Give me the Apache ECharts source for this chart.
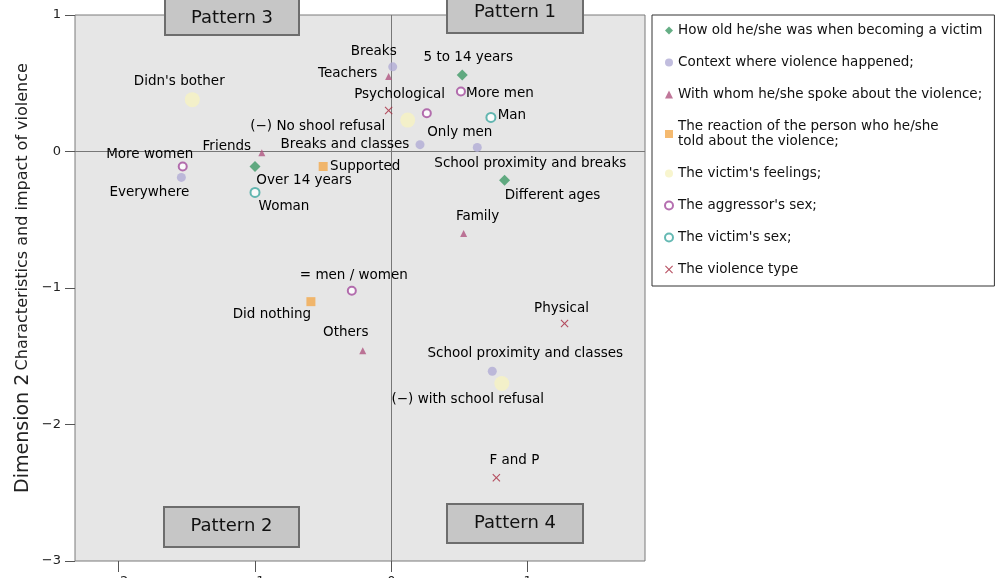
<!DOCTYPE html>
<html>
<head>
<meta charset="utf-8">
<script src="https://cdn.jsdelivr.net/npm/echarts@6/dist/echarts.min.js"></script>
<style>html,body{margin:0;padding:0;background:#fff}#c{width:995px;height:578px}</style>
</head>
<body>
<div id="c"></div>
<script>
// ---- data ----
const xTicks = [-2, -1, 0, 1];
const yTicks = [-3, -2, -1, 0, 1];

const ageNames = ['5 to 14 years', 'Over 14 years', 'Different ages'];
const ageX = [0.52, -1.00, 0.83];
const ageY = [0.56, -0.11, -0.21];

const contextNames = ['Breaks', 'Breaks and classes', 'School proximity and breaks', 'Everywhere', 'School proximity and classes'];
const contextX = [0.01, 0.21, 0.63, -1.54, 0.74];
const contextY = [0.62, 0.05, 0.03, -0.19, -1.61];

const whomNames = ['Teachers', 'Friends', 'Family', 'Others'];
const whomX = [-0.02, -0.95, 0.53, -0.21];
const whomY = [0.55, -0.01, -0.60, -1.46];

const reactionNames = ['Supported', 'Did nothing'];
const reactionX = [-0.50, -0.59];
const reactionY = [-0.11, -1.10];

const feelingNames = ["Didn's bother", '(−) No shool refusal', '(−) with school refusal'];
const feelingX = [-1.46, 0.12, 0.81];
const feelingY = [0.38, 0.23, -1.70];

const aggressorNames = ['More men', 'Only men', 'More women', '= men / women'];
const aggressorX = [0.51, 0.26, -1.53, -0.29];
const aggressorY = [0.44, 0.28, -0.11, -1.02];

const victimNames = ['Man', 'Woman'];
const victimX = [0.73, -1.00];
const victimY = [0.25, -0.30];

const typeNames = ['Psychological', 'Physical', 'F and P'];
const typeX = [-0.02, 1.27, 0.77];
const typeY = [0.30, -1.26, -2.39];

const seriesNames = [
  'How old he/she was when becoming a victim',
  'Context where violence happened;',
  'With whom he/she spoke about the violence;',
  'The reaction of the person who he/she\ntold about the violence;',
  "The victim's feelings;",
  "The aggressor's sex;",
  "The victim's sex;",
  'The violence type'
];
const patternNames = ['Pattern 3', 'Pattern 1', 'Pattern 2', 'Pattern 4'];

// label placement (pixel offsets of text centre from its marker)
const labelOffsets = {
  '5 to 14 years': [6, -18], 'Over 14 years': [49, 14], 'Different ages': [48, 15],
  'Breaks': [-19, -15], 'Breaks and classes': [-75, 0], 'School proximity and breaks': [53, 16],
  'Everywhere': [-32, 15], 'School proximity and classes': [33, -18],
  'Teachers': [-41, -3], 'Friends': [-35, -6], 'Family': [14, -17], 'Others': [-17, -18],
  'Supported': [42, 0], 'Did nothing': [-39, 13],
  "Didn's bother": [-13, -18], '(−) No shool refusal': [-90, 6], '(−) with school refusal': [-34, 16],
  'More men': [39, 2], 'Only men': [33, 19], 'More women': [-33, -12], '= men / women': [2, -15],
  'Man': [21, -2], 'Woman': [29, 14],
  'Psychological': [11, -16], 'Physical': [-3, -15], 'F and P': [18, -17]
};

const FONT = 'DejaVu Sans';
const TXT = '#000';

function mk(name, names, xs, ys, symbol, size, color, itemStyle) {
  return {
    type: 'scatter', name: name, symbol: symbol, symbolSize: size,
    itemStyle: Object.assign({ color: color }, itemStyle || {}),
    emphasis: { disabled: true },
    label: { show: true, position: 'inside', formatter: '{b}', color: TXT, fontSize: 13.5, fontFamily: FONT,
      textBorderWidth: 0, textShadowBlur: 0, opacity: 1 },
    data: names.map((n, i) => ({ name: n, value: [xs[i], ys[i]], label: { offset: labelOffsets[n] } })),
    z: 3
  };
}

const xPath = 'path://M1,0L5,4L9,0L10,1L6,5L10,9L9,10L5,6L1,10L0,9L4,5L0,1Z';

const series = [
  mk(seriesNames[0], ageNames, ageX, ageY, 'diamond', 11, '#3f9a66'),
  mk(seriesNames[1], contextNames, contextX, contextY, 'circle', 9, '#b1acd6'),
  mk(seriesNames[2], whomNames, whomX, whomY, 'triangle', 7, '#b05581'),
  mk(seriesNames[3], reactionNames, reactionX, reactionY, 'rect', 9, '#f2a94c'),
  mk(seriesNames[4], feelingNames, feelingX, feelingY, 'circle', 15, '#f6f2c2'),
  mk(seriesNames[5], aggressorNames, aggressorX, aggressorY, 'emptyCircle', 8, '#a34b9c', { borderWidth: 2 }),
  mk(seriesNames[6], victimNames, victimX, victimY, 'emptyCircle', 9, '#3ea8a0', { borderWidth: 2.5 }),
  mk(seriesNames[7], typeNames, typeX, typeY, xPath, 8, '#a8283e')
];
series[0].markLine = {
  silent: true, symbol: 'none', label: { show: false },
  lineStyle: { color: '#777', width: 1, type: 'solid' },
  data: [{ xAxis: 0 }, { yAxis: 0 }], z: 1
};

const boxes = [[165, -3, 134, 38, 18], [447, -3, 136, 36, 12], [164, 507, 135, 40, 526], [447, 504, 136, 39, 523]];
const graphic = [];
boxes.forEach((b, i) => {
  graphic.push({ type: 'rect', z: 10, shape: { x: b[0], y: b[1], width: b[2], height: b[3] },
    style: { fill: '#c6c6c6', stroke: '#6d6d6d', lineWidth: 2 } });
  graphic.push({ type: 'text', z: 11, x: b[0] + b[2] / 2, y: b[4],
    style: { text: patternNames[i], fill: '#111', font: '18px "DejaVu Sans"', align: 'center', verticalAlign: 'middle' } });
});
graphic.push({ type: 'text', z: 11, x: 23, y: 278, rotation: Math.PI / 2,
  style: { text: '{a|Dimension 2} {b|Characteristics and impact of violence}', align: 'center', verticalAlign: 'middle',
    fill: '#222',
    rich: { a: { fontSize: 19, fontFamily: FONT, fill: '#222' }, b: { fontSize: 16, fontFamily: FONT, fill: '#222' } } } });

const chart = echarts.init(document.getElementById('c'), null, { renderer: 'canvas' });
chart.setOption({
  animation: false,
  backgroundColor: '#fff',
  grid: { left: 75, right: 350, top: 15, bottom: 17, outerBoundsMode: 'none', containLabel: false,
    show: true, backgroundColor: '#e6e6e6', borderColor: '#7a7a7a', borderWidth: 1 },
  xAxis: {
    type: 'value', min: -2.32, max: 1.86,
    axisLine: { show: false, onZero: false },
    splitLine: { show: false },
    axisTick: { show: true, length: 11, customValues: xTicks, lineStyle: { color: '#555' } },
    axisLabel: { customValues: xTicks, margin: 14, fontSize: 13, color: '#222', fontFamily: FONT,
      formatter: v => String(v).replace('-', '−') }
  },
  yAxis: {
    type: 'value', min: -3, max: 1, interval: 1,
    axisLine: { show: false, onZero: false },
    splitLine: { show: false },
    axisTick: { show: true, length: 10, lineStyle: { color: '#555' } },
    axisLabel: { margin: 14, fontSize: 13, color: '#222', fontFamily: FONT,
      formatter: v => String(v).replace('-', '−') }
  },
  legend: {
    orient: 'vertical', left: 652, top: 15,
    padding: [8, 12, 9, 12],
    itemGap: 17, itemWidth: 8, itemHeight: 8,
    borderColor: '#333', borderWidth: 1,
    textStyle: { fontSize: 13.5, lineHeight: 15, color: '#111', fontFamily: FONT },
    selectedMode: false,
    data: seriesNames
  },
  graphic: graphic,
  series: series
});
</script>
</body>
</html>
